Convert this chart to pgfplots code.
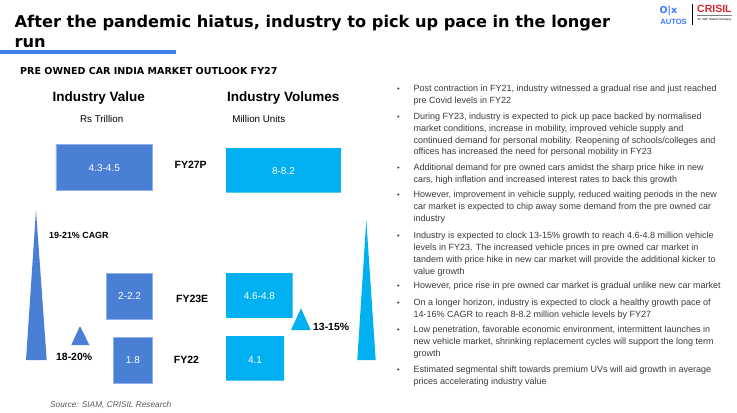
\documentclass[border=0pt]{standalone}
\usepackage{fontspec}
\setmainfont{Liberation Sans}
\newfontfamily\titlefont{DejaVu Sans}
\usepackage{pgfplots}
\pgfplotsset{compat=1.18}
\definecolor{valblue}{HTML}{4A7FD6}
\definecolor{valedge}{HTML}{8FB0EA}
\definecolor{volcyan}{HTML}{00B0F0}
\definecolor{linkblue}{HTML}{3D7FEA}
\definecolor{bodytext}{HTML}{3A3A3A}
\definecolor{olxblue}{HTML}{3B78FF}
\definecolor{crisilred}{HTML}{D7282F}
\newcommand{\fs}[1]{\fontsize{#1bp}{#1bp}\selectfont}
\newcommand{\bl}[2]{\node[anchor=base west, inner sep=0, text=bodytext, font=\fs{9.0}] at (axis cs:413.3,#1) {#2};}
\newcommand{\bu}[1]{\node[anchor=base, inner sep=0, text=bodytext, font=\fs{7.5}] at (axis cs:398.5,#1) {\textbullet};}
\begin{document}
\begin{tikzpicture}
\useasboundingbox (0,0) rectangle (737bp,413bp);
% ---------- canvas axis (pixel coordinates) ----------
\begin{axis}[at={(0,0)}, anchor=south west, width=737bp, height=413bp, scale only axis,
  xmin=0, xmax=737, ymin=0, ymax=413, y dir=reverse, hide axis, clip=false]
% growth triangles
\addplot[fill=valblue, draw=none] coordinates {(26,360) (36,210) (46.7,360)} -- cycle;
\addplot[fill=valblue, draw=none] coordinates {(71.3,345) (80,326) (89.3,345)} -- cycle;
\addplot[fill=volcyan, draw=none] coordinates {(291,330) (301,308.3) (310.7,330)} -- cycle;
\addplot[fill=volcyan, draw=none] coordinates {(357.3,360) (366.3,220) (375.7,360)} -- cycle;
% title
\node[anchor=base west, inner sep=0, font=\titlefont\bfseries\fs{16.2}] at (axis cs:14.5,28) {After the pandemic hiatus, industry to pick up pace in the longer};
\node[anchor=base west, inner sep=0, font=\titlefont\bfseries\fs{16.2}] at (axis cs:14.5,47.3) {run};
\draw[linkblue, line width=3.6bp] (axis cs:0,52.2) -- (axis cs:176,52.2);
\node[anchor=base west, inner sep=0, font=\titlefont\bfseries\fs{9.55}] at (axis cs:20,74) {PRE OWNED CAR INDIA MARKET OUTLOOK FY27};
% logos
\node[anchor=base, inner sep=0, text=olxblue, font=\titlefont\bfseries\fs{9.5}] at (axis cs:668.5,13.5) {O|x};
\node[anchor=base, inner sep=0, text=olxblue, font=\bfseries\fs{7.6}] at (axis cs:673.5,24.3) {AUTOS};
\draw[black, line width=0.8bp] (axis cs:692.7,4) -- (axis cs:692.7,25);
\node[anchor=base west, inner sep=0, text=crisilred, font=\bfseries\fs{10.5}] at (axis cs:697,12.5) {CRISIL};
\draw[gray, line width=0.4bp] (axis cs:697,15.5) -- (axis cs:732,15.5);
\node[anchor=base, inner sep=0, font=\fs{3}] at (axis cs:714.5,20.5) {An S\&P Global Company};
% headers
\node[anchor=base, inner sep=0, font=\bfseries\fs{13.5}] at (axis cs:98.7,101) {Industry Value};
\node[anchor=base, inner sep=0, font=\bfseries\fs{13.5}] at (axis cs:283.3,101) {Industry Volumes};
\node[anchor=base, inner sep=0, font=\fs{9.8}] at (axis cs:101.7,122.3) {Rs Trillion};
\node[anchor=base, inner sep=0, font=\fs{9.8}] at (axis cs:258.8,122.3) {Million~Units};
% year labels
\node[anchor=base, inner sep=0, font=\bfseries\fs{10.5}] at (axis cs:190.7,168.7) {FY27P};
\node[anchor=base, inner sep=0, font=\bfseries\fs{10.5}] at (axis cs:192.2,302.7) {FY23E};
\node[anchor=base, inner sep=0, font=\bfseries\fs{10.5}] at (axis cs:186.5,363.7) {FY22};
% growth labels
\node[anchor=base west, inner sep=0, font=\bfseries\fs{8.9}] at (axis cs:49,238) {19-21\% CAGR};
\node[anchor=base west, inner sep=0, font=\bfseries\fs{10.4}] at (axis cs:56,360.3) {18-20\%};
\node[anchor=base west, inner sep=0, font=\bfseries\fs{10.4}] at (axis cs:313,330.7) {13-15\%};
\node[anchor=base west, inner sep=0, text=black!65, font=\itshape\fs{8.3}] at (axis cs:50,407.3) {Source: SIAM, CRISIL Research};
% bullets
\bu{91.5}\bl{91.5}{Post contraction in FY21, industry witnessed a gradual rise and just reached}
\bl{103.5}{pre Covid levels in FY22}
\bu{119.2}\bl{119.2}{During FY23, industry is expected to pick up pace backed by normalised}
\bl{131.1}{market conditions, increase in mobility, improved vehicle supply and}
\bl{143.0}{continued demand for personal mobility. Reopening of schools/colleges and}
\bl{154.9}{offices has increased the need for personal mobility in FY23}
\bu{170.9}\bl{170.9}{Additional demand for pre owned cars amidst the sharp price hike in new}
\bl{182.9}{cars, high inflation and increased interest rates to back this growth}
\bu{197.5}\bl{197.5}{However, improvement in vehicle supply, reduced waiting periods in the new}
\bl{209.6}{car market is expected to chip away some demand from the pre owned car}
\bl{221.7}{industry}
\bu{238.2}\bl{238.2}{Industry is expected to clock 13-15\% growth to reach 4.6-4.8 million vehicle}
\bl{250.1}{levels in FY23. The increased vehicle prices in pre owned car market in}
\bl{262.1}{tandem with price hike in new car market will provide the additional kicker to}
\bl{274.1}{value growth}
\bu{288.9}\bl{288.9}{However, price rise in pre owned car market is gradual unlike new car market}
\bu{305.2}\bl{305.2}{On a longer horizon, industry is expected to clock a healthy growth pace of}
\bl{317.2}{14-16\% CAGR to reach 8-8.2 million vehicle levels by FY27}
\bu{332.5}\bl{332.5}{Low penetration, favorable economic environment, intermittent launches in}
\bl{344.5}{new vehicle market, shrinking replacement cycles will support the long term}
\bl{356.5}{growth}
\bu{372.2}\bl{372.2}{Estimated segmental shift towards premium UVs will aid growth in average}
\bl{384.2}{prices accelerating industry value}
\end{axis}
% ---------- Industry value bars (Rs trillion) ----------
\begin{axis}[at={(0,413bp)}, anchor=north west, width=152.7bp, height=413bp, scale only axis,
  xmin=0, xmax=6.941, x dir=reverse, ymin=0, ymax=413, y dir=reverse, hide axis, clip=false]
\addplot[xbar, bar shift=0pt, bar width=45.7, fill=valblue, draw=valedge, line width=0.8bp]
  coordinates {(4.4,167.3) (2.1,296.2) (1.8,360.2)};
\addplot[draw=none, mark=none, nodes near coords, point meta=explicit symbolic,
  every node near coord/.style={anchor=center, text=white, font=\fs{10}, inner sep=0}]
  coordinates {(2.2,167.6) [4.3-4.5] (1.05,296.4) [2-2.2] (0.9,360.4) [1.8]};
\end{axis}
% ---------- Industry volume bars (million units) ----------
\begin{axis}[at={(226bp,413bp)}, anchor=north west, width=511bp, height=413bp, scale only axis,
  xmin=0, xmax=36, ymin=0, ymax=413, y dir=reverse, hide axis, clip=false]
\addplot[xbar, bar shift=0pt, bar width=44.6, fill=volcyan, draw=none]
  coordinates {(8.1,170.3) (4.7,295.5) (4.1,358.3)};
\addplot[draw=none, mark=none, nodes near coords, point meta=explicit symbolic,
  every node near coord/.style={anchor=center, text=white, font=\fs{10}, inner sep=0}]
  coordinates {(4.05,170.6) [8-8.2] (2.35,296.2) [4.6-4.8] (2.05,360) [4.1]};
\end{axis}
\end{tikzpicture}
\end{document}
